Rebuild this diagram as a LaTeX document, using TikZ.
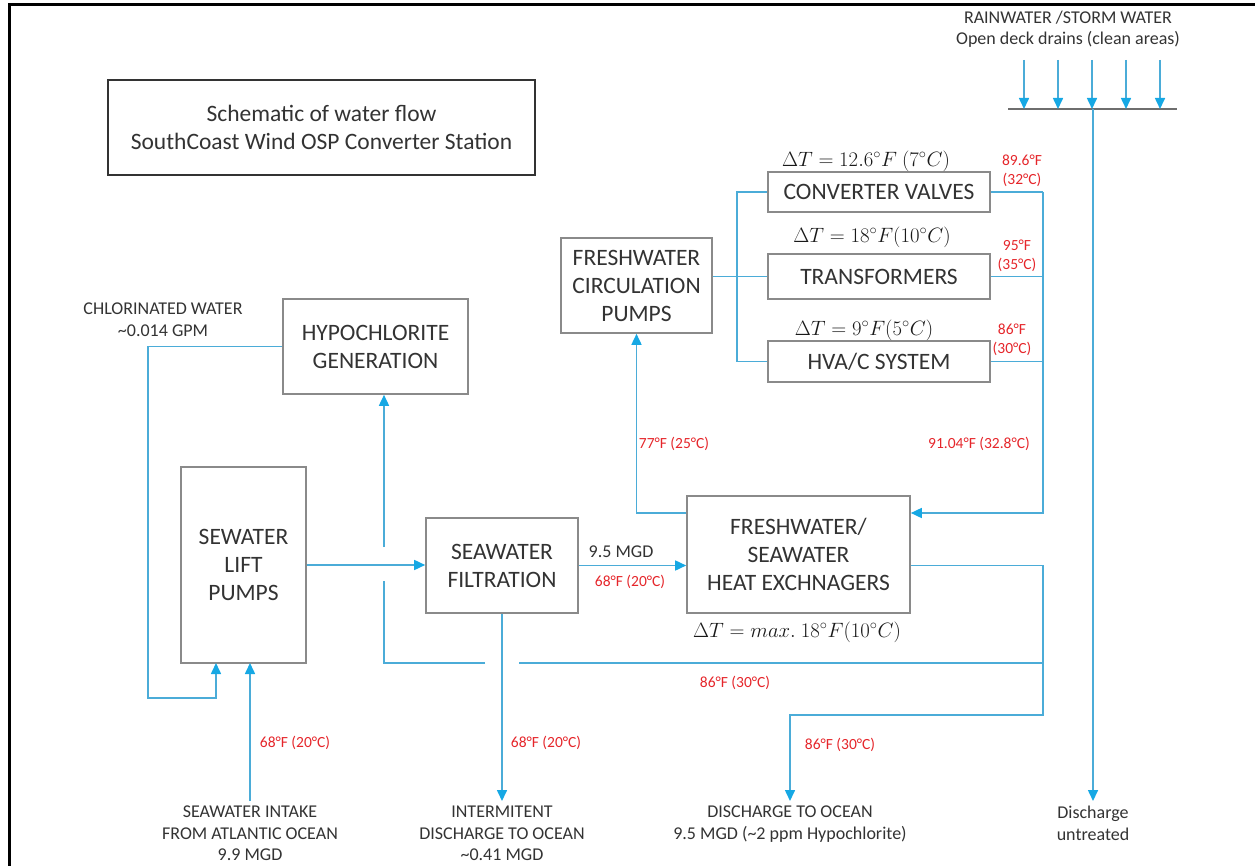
\documentclass[tikz,border=0pt]{standalone}
\usepackage{fontspec}
\setmainfont{Carlito}
\usetikzlibrary{positioning,arrows.meta,calc}
\definecolor{Pipe}{HTML}{4BACD8}
\definecolor{PipeTip}{HTML}{16A8E4}
\definecolor{BoxLine}{HTML}{8A8A8A}
\definecolor{Ink}{HTML}{333333}
\definecolor{Temp}{HTML}{E5262B}
\definecolor{Header}{HTML}{6E6E6E}

\begin{document}
\begin{tikzpicture}[x=1pt, y=-1pt,
  unit/.style={draw=BoxLine, line width=1.6pt, fill=white, align=center,
    inner sep=0pt, text=Ink, font=\fontsize{23.5}{28}\selectfont},
  pipe/.style={Pipe, line width=1.6pt},
  flow/.style={pipe, -{Triangle[length=11pt, width=10pt, color=PipeTip]}},
  temp/.style={text=Temp, align=center, inner sep=0pt, font=\fontsize{15.5}{19}\selectfont},
  note/.style={text=Ink, align=center, inner sep=0pt, outer sep=5pt,
    font=\fontsize{18}{21.5}\selectfont},
  dt/.style={text=black!90, inner sep=0pt, font=\fontsize{22}{24}\selectfont}]
  \useasboundingbox (0,0) rectangle (1255,866);
  % page frame (top and left edge only)
  \draw[line width=3pt] (9,866) -- (9,5) -- (1255,5);

  % title
  \node[unit, draw=Ink, line width=1.2pt, minimum width=427pt, minimum height=95pt]
    (title) at (321.5,127.5) {Schematic of water flow\\SouthCoast Wind OSP Converter Station};

  % process units
  \node[unit, minimum width=185pt, minimum height=95pt] (hypo) at (375.5,346.5) {HYPOCHLORITE\\GENERATION};
  \node[unit, minimum width=125pt, minimum height=196pt] (lift) at (243.5,565) {SEWATER\\LIFT\\PUMPS};
  \node[unit, minimum width=152pt, minimum height=95pt] (filt) at (502,565.5) {SEAWATER\\FILTRATION};
  \node[unit, minimum width=223pt, minimum height=117pt] (hx) at (798.5,554.5) {FRESHWATER/\\SEAWATER\\HEAT EXCHNAGERS};
  \node[unit, minimum width=151pt, minimum height=95pt] (fcp) at (636.5,285.5) {FRESHWATER\\CIRCULATION\\PUMPS};
  \node[unit, minimum width=222pt, minimum height=40pt] (cv) at (879,192) {CONVERTER VALVES};
  \node[unit, minimum width=222pt, minimum height=45pt] (trafo) at (879,276.5) {TRANSFORMERS};
  \node[unit, minimum width=222pt, minimum height=41pt] (hvac) at (879,361.5) {HVA/C SYSTEM};

  % delta T of each load
  \node[dt] (dtCV) at (866,161) {$\Delta T = 12.6^{\circ}F\ (7^{\circ}C)$};
  \node[dt] (dtTR) at (872,237) {$\Delta T = 18^{\circ}F(10^{\circ}C)$};
  \node[dt] (dtHV) at (864,330) {$\Delta T = 9^{\circ}F(5^{\circ}C)$};
  \node[dt] (dtHX) at (797,632) {$\Delta T = max.\ 18^{\circ}F(10^{\circ}C)$};

  % inlets and outlets
  \node[note] (rain) at (1068,29) {RAINWATER /STORM WATER\\Open deck drains (clean areas)};
  \node[note] (chlw) at (163,319.5) {CHLORINATED WATER\\\textasciitilde 0.014 GPM};
  \node[note, anchor=north] (intake) at (250,801) {SEAWATER INTAKE\\FROM ATLANTIC OCEAN\\9.9 MGD};
  \node[note, anchor=north] (interm) at (502,801) {INTERMITENT\\DISCHARGE TO OCEAN\\\textasciitilde 0.41 MGD};
  \node[note, anchor=north] (dis) at (790,801) {DISCHARGE TO OCEAN\\9.5 MGD (\textasciitilde 2 ppm Hypochlorite)};
  \node[note, anchor=north] (untr) at (1093,801) {Discharge\\untreated};
  \node[note, outer sep=0pt] (mgd) at (621,552) {9.5 MGD};

  % temperatures
  \node[temp] (tCV) at (1022,171) {89.6°F\\(32°C)};
  \node[temp] (tTR) at (1017,255.5) {95°F\\(35°C)};
  \node[temp] (tHV) at (1012,339.5) {86°F\\(30°C)};
  \node[temp] (tMix) at (979,444) {91.04°F (32.8°C)};
  \node[temp] (tFW) at (674,444) {77°F (25°C)};
  \node[temp] (tSW) at (630,582) {68°F (20°C)};
  \node[temp] (tRet) at (735,683) {86°F (30°C)};
  \node[temp] (tIn) at (295,743) {68°F (20°C)};
  \node[temp] (tInt) at (546,743) {68°F (20°C)};
  \node[temp] (tDis) at (840,745) {86°F (30°C)};

  \coordinate (busL) at (737,0);
  \coordinate (busR) at (1043,0);
  \coordinate (hxin) at (0,513);
  \coordinate (out) at (0,715);
  \coordinate (ret) at (384,663);
  \coordinate (chl) at (148,698);
  \coordinate (liftA) at (216,663);
  \coordinate (liftB) at (250,663);
  \coordinate (hdrL) at (1008,109);
  \coordinate (hdrR) at (1177,109);

  % freshwater loop
  \draw[pipe] (trafo.west -| fcp.east) -- (trafo.west);
  \draw[pipe] (cv.west) -| (busL |- hvac.west) -- (hvac.west);
  \draw[pipe] (cv.east) -- (busR |- cv.east);
  \draw[pipe] (trafo.east) -- (busR |- trafo.east);
  \draw[pipe] (hvac.east) -- (busR |- hvac.east);
  \draw[flow] (busR |- cv.east) |- (hx.east |- hxin);
  \draw[flow] (hx.west |- hxin) -| (fcp.south);

  % seawater path
  \draw[flow] (intake.north) -- (liftB);
  \draw[flow] (lift.east) -- (lift.east -| filt.west);
  \draw[flow] (filt.east) -- (filt.east -| hx.west);
  \draw[flow] (filt.south) -- (interm.north);
  \draw[flow] (filt.east -| hx.east) -| (busR |- out) -| (dis.north);
  \draw[flow] (hypo.west) -| (chl) -| (liftA);

  % return to hypochlorite generation, broken at the crossings
  \draw[pipe] (busR |- ret) -- ($(filt.south |- ret)+(17,0)$);
  \draw[pipe] ($(filt.south |- ret)+(-17,0)$) -- (ret) -- ($(ret |- lift.east)+(0,16)$);
  \draw[flow] ($(ret |- lift.east)+(0,-18)$) -- (ret |- hypo.south);

  % deck drains
  \draw[Header, line width=1.5pt] (hdrL) -- (hdrR);
  \foreach \x [count=\i] in {1024,1058,1092,1126,1160} {
    \coordinate (rt\i) at (\x,60);
    \draw[flow] (rt\i) -- (rt\i |- hdrL);
  }
  \draw[flow] (hdrL -| untr.north) -- (untr.north);
\end{tikzpicture}
\end{document}
